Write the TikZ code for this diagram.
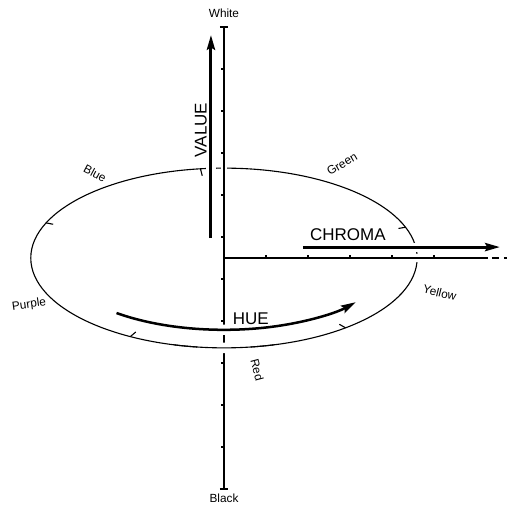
\documentclass[tikz,border=0pt]{standalone}
\usepackage{fontspec}
\setmainfont{Liberation Sans}
\usetikzlibrary{positioning,arrows.meta,calc}

\begin{document}
\begin{tikzpicture}[font=\fontsize{8}{9}\selectfont,
    >={Stealth[length=10pt,width=5.5pt,inset=1.5pt]},
    axisline/.style={line width=0.9pt},
    rimline/.style={line width=0.75pt},
    bigarrow/.style={->, line width=2pt},
    gapline/.style={draw=white, line width=#1},
    biglabel/.style={font=\fontsize{11.5}{13}\selectfont}]
  % Hue circle seen from above, value axis through it, chroma going outwards.
  \useasboundingbox (-5.333,-5.929) rectangle (6.738,6.143);
  \coordinate (O) at (0,0);
  \coordinate (W) at (0,5.5);
  \coordinate (K) at (0,-5.5);
  \coordinate (E) at (6.1,0);
  \coordinate (Eend) at (6.74,0);

  % the hue circle, with its marks
  \draw[rimline] (O) ellipse [x radius=4.6, y radius=2.14];
  \foreach \a in {20,97,157,241,309} {
    \coordinate (t) at (\a:4.6 and 2.14);
    \draw[rimline] (t) -- ($(t)!0.17cm!(O)$);
  }

  % the back of the circle runs behind the axis and the arrows
  \draw[gapline=4.7pt] (0,1.85) -- (0,2.4);
  \draw[gapline=7pt] (-0.31,1.85) -- (-0.31,2.4);
  \draw[gapline=6pt] (4.0,0.26) -- (4.8,0.26);
  \draw[gapline=6pt] (4.0,0) -- (4.8,0);

  % value axis, White to Black
  \draw[axisline] (K) -- (W);
  \draw[axisline] (-0.1,5.5) -- (0.1,5.5);
  \draw[axisline] (-0.1,-5.5) -- (0.1,-5.5);
  \foreach \y in {-4.5,-3.5,...,4.5}
    \draw[rimline] (0,\y) -- (-0.07,\y);
  \node (white) at (0,5.83) {White};
  \node (black) at (0,-5.71) {Black};

  % chroma axis
  \draw[axisline] (O) -- (E);
  \draw[axisline, dash pattern=on 5pt off 3pt] (E) -- (Eend);
  \foreach \x in {1,...,5}
    \draw[rimline] (\x,0) -- (\x,0.07);

  % the three arrows
  \draw[bigarrow] (-0.31,0.476) -- (-0.31,5.31);
  \node[biglabel, rotate=90] (value) at (-0.55,3.05) {VALUE};
  \draw[bigarrow] (1.88,0.26) -- (6.57,0.26);
  \node[biglabel] (chroma) at (2.95,0.55) {CHROMA};

  % the front of the circle runs before the axis
  \draw[gapline=7pt] (262:4.6 and 2.14) arc[start angle=262, end angle=278, x radius=4.6, y radius=2.14];
  \draw[gapline=7pt] (262:3.98 and 1.71) arc[start angle=262, end angle=278, x radius=3.98, y radius=1.71];
  \draw[rimline] (255:4.6 and 2.14) arc[start angle=255, end angle=285, x radius=4.6, y radius=2.14];
  \draw[->, line width=1.7pt] (230:3.98 and 1.71) arc[start angle=230, end angle=322, x radius=3.98, y radius=1.71];
  \node[biglabel] (hue) at (0.64,-1.44) {HUE};

  % names of the hues round the rim
  \node[rotate=-28] (blue) at (-3.07,2.02) {Blue};
  \node[rotate=30] (green) at (2.81,2.24) {Green};
  \node[rotate=8] (purple) at (-4.64,-1.12) {Purple};
  \node[rotate=-14] (yellow) at (5.14,-0.83) {Yellow};
  \node[rotate=-75] (red) at (0.79,-2.67) {Red};
\end{tikzpicture}
\end{document}
